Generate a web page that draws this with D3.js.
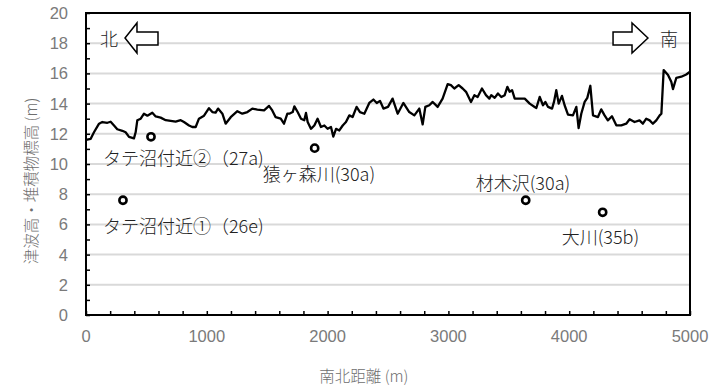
<!DOCTYPE html>
<html>
<head>
<meta charset="utf-8">
<script src="https://cdn.jsdelivr.net/npm/d3@7"></script>
<style>
  body { margin: 0; background: #fff; }
  svg { display: block; }
  .tick-label { font-family: "Liberation Sans", Arial, sans-serif; font-size: 16.5px; fill: #7a7a7a; }
  .axis-title { font-family: "Noto Sans CJK JP", sans-serif; font-size: 15.5px; font-weight: 300; fill: #6e6e6e; }
  .site-label { font-family: "Noto Sans CJK JP", sans-serif; font-size: 18px; font-weight: 300; fill: #222; }
</style>
</head>
<body>
<svg id="chart" width="725" height="386"></svg>
<script>
// tsunami height profile (distance m, height m)
const profileX = [0, 39, 66, 108, 135, 177, 204, 232, 259, 301, 328, 356, 397, 411, 425, 453, 480, 508, 549, 577,
  618, 660, 701, 742, 784, 811, 853, 880, 908, 935, 977, 1018, 1046, 1073, 1093, 1129, 1156, 1198, 1253, 1294,
  1336, 1377, 1418, 1474, 1515, 1542, 1570, 1612, 1639, 1667, 1683, 1711, 1725, 1752, 1780, 1807, 1821, 1835, 1862,
  1890, 1917, 1945, 1973, 2000, 2028, 2047, 2070, 2097, 2125, 2152, 2180, 2207, 2240, 2268, 2304, 2345, 2379, 2407,
  2434, 2462, 2500, 2538, 2580, 2627, 2676, 2718, 2759, 2787, 2809, 2842, 2870, 2911, 2952, 2994, 3021, 3049, 3085,
  3118, 3146, 3187, 3215, 3242, 3278, 3311, 3339, 3355, 3383, 3410, 3438, 3466, 3488, 3507, 3527, 3549, 3590, 3632,
  3673, 3714, 3728, 3756, 3783, 3803, 3825, 3858, 3874, 3893, 3913, 3940, 3962, 3990, 4031, 4059, 4078, 4100, 4128,
  4150, 4175, 4197, 4238, 4265, 4293, 4320, 4354, 4390, 4431, 4472, 4500, 4541, 4582, 4610, 4638, 4666, 4693, 4721,
  4749, 4763, 4782, 4818, 4845, 4859, 4887, 4928, 4969, 5000];
const profileY = [11.6, 11.67, 12.1, 12.67, 12.78, 12.73, 12.8, 12.55, 12.3, 12.2, 12.1, 11.8, 11.7, 12.1, 12.9, 13.0, 13.33, 13.2, 13.4, 13.15,
  13.07, 12.9, 12.85, 12.8, 12.9, 12.78, 12.55, 12.45, 12.45, 13.0, 13.2, 13.7, 13.44, 13.4, 13.67, 13.33, 12.67, 13.1, 13.5, 13.33,
  13.44, 13.67, 13.6, 13.55, 13.85, 13.55, 13.1, 13.0, 12.67, 13.33, 13.33, 13.44, 13.82, 13.44, 13.0, 12.9, 13.38, 12.78, 12.33,
  12.55, 13.0, 12.45, 12.55, 12.33, 12.45, 11.82, 12.33, 12.22, 12.55, 12.78, 13.22, 13.11, 13.78, 13.44, 13.33, 14.04, 14.27, 14.04,
  14.18, 13.67, 13.78, 14.33, 13.33, 14.04, 13.44, 13.22, 13.67, 12.62, 13.78, 13.89, 14.11, 13.78, 14.33, 15.29, 15.22, 15.0, 15.22,
  15.0, 14.78, 14.11, 14.56, 14.44, 15.0, 14.56, 14.33, 14.56, 14.38, 14.67, 14.44, 14.56, 15.11, 14.78, 14.89, 14.33, 14.33, 14.33,
  14.0, 13.78, 13.71, 14.44, 13.89, 14.11, 13.78, 13.67, 14.11, 14.89, 14.0, 14.51, 13.89, 13.27, 13.22, 13.78, 12.38, 13.33, 14.11,
  14.38, 15.18, 13.22, 13.11, 13.62, 13.22, 12.89, 13.16, 12.56, 12.56, 12.67, 12.96, 12.78, 12.89, 12.67, 13.0, 12.89, 12.67, 12.89,
  13.22, 13.33, 16.22, 15.89, 15.44, 14.96, 15.71, 15.78, 15.93, 16.11];

// sediment sites
const siteNames = ["タテ沼付近①（26e)", "タテ沼付近②（27a)", "猿ヶ森川(30a)", "材木沢(30a)", "大川(35b)"];
const siteX = [306, 538, 1893, 3640, 4277];
const siteY = [7.6, 11.8, 11.05, 7.6, 6.8];

const yTicks = [0, 2, 4, 6, 8, 10, 12, 14, 16, 18, 20];
const xTicks = [0, 1000, 2000, 3000, 4000, 5000];

const svg = d3.select('#chart');
const margin = { top: 13, right: 35, bottom: 71, left: 86 };
const width = +svg.attr('width'), height = +svg.attr('height');

const x = d3.scaleLinear().domain([0, 5000]).range([margin.left, width - margin.right]);
const y = d3.scaleLinear().domain([0, 20]).range([height - margin.bottom, margin.top]);

svg.append('rect').attr('width', width).attr('height', height).attr('fill', '#fff');

// gridlines
svg.append('g')
  .selectAll('line')
  .data(yTicks.filter(d => d > 0 && d < 20))
  .enter()
  .append('line')
  .attr('x1', x(0)).attr('x2', x(5000))
  .attr('y1', d => y(d)).attr('y2', d => y(d))
  .attr('stroke', '#d9d9d9').attr('stroke-width', 2);

// axes (ticks point inward)
const yAxis = svg.append('g')
  .attr('transform', `translate(${x(0)},0)`)
  .call(d3.axisRight(y).tickValues(d3.range(0, 21, 1)).tickSize(4).tickFormat(''));
const xAxis = svg.append('g')
  .attr('transform', `translate(0,${y(0)})`)
  .call(d3.axisTop(x).tickValues(d3.range(0, 5001, 200)).tickSize(4).tickFormat(''));
[yAxis, xAxis].forEach(g => {
  g.select('.domain').remove();
  g.selectAll('.tick line').attr('stroke', '#000').attr('stroke-width', 1.5);
});

// frame
svg.append('rect')
  .attr('x', x(0)).attr('y', y(20))
  .attr('width', x(5000) - x(0)).attr('height', y(0) - y(20))
  .attr('fill', 'none').attr('stroke', '#000').attr('stroke-width', 2);

// tick labels
svg.append('g').selectAll('text')
  .data(yTicks).enter().append('text')
  .attr('class', 'tick-label')
  .attr('x', x(0) - 18).attr('y', d => y(d))
  .attr('text-anchor', 'end').attr('dominant-baseline', 'central')
  .text(d => d);
svg.append('g').selectAll('text')
  .data(xTicks).enter().append('text')
  .attr('class', 'tick-label')
  .attr('x', d => x(d)).attr('y', y(0) + 21)
  .attr('text-anchor', 'middle').attr('dominant-baseline', 'central')
  .text(d => d);

// axis titles
svg.append('text')
  .attr('class', 'axis-title')
  .attr('transform', `translate(30,${y(10) + 17}) rotate(-90)`)
  .attr('text-anchor', 'middle').attr('dominant-baseline', 'central')
  .text('津波高・堆積物標高 (m)');
svg.append('text')
  .attr('class', 'axis-title')
  .attr('x', x(2300)).attr('y', 375)
  .attr('text-anchor', 'middle').attr('dominant-baseline', 'central')
  .text('南北距離 (m)');

// profile line
const profile = profileX.map((d, i) => [d, profileY[i]]);
svg.append('path')
  .datum(profile)
  .attr('fill', 'none').attr('stroke', '#000').attr('stroke-width', 2.3)
  .attr('stroke-linejoin', 'round')
  .attr('d', d3.line().x(d => x(d[0])).y(d => y(d[1])));

// sites
const labelOffset = [[-20, 25], [-48, 20], [-52, 25], [-50, -18], [-41, 24]];
const sites = siteNames.map((n, i) => ({ name: n, x: siteX[i], y: siteY[i], off: labelOffset[i] }));
svg.append('g').selectAll('circle')
  .data(sites).enter().append('circle')
  .attr('cx', d => x(d.x)).attr('cy', d => y(d.y)).attr('r', 3.6)
  .attr('fill', '#fff').attr('stroke', '#000').attr('stroke-width', 2.6);
svg.append('g').selectAll('text')
  .data(sites).enter().append('text')
  .attr('class', 'site-label')
  .attr('x', d => x(d.x) + d.off[0]).attr('y', d => y(d.y) + d.off[1])
  .attr('dominant-baseline', 'central')
  .text(d => d.name);

// direction arrows
const arrowLeft = [[323, 18.34], [422, 19.34], [422, 18.74], [596, 18.74], [596, 17.88], [422, 17.88], [422, 17.35]];
const arrowRight = [[4652, 18.34], [4520, 19.34], [4520, 18.74], [4363, 18.74], [4363, 17.88], [4520, 17.88], [4520, 17.35]];
[arrowLeft, arrowRight].forEach(a => {
  svg.append('path')
    .attr('d', d3.line().x(d => x(d[0])).y(d => y(d[1]))(a) + 'Z')
    .attr('fill', '#fff').attr('stroke', '#000').attr('stroke-width', 1.5);
});
svg.append('text').attr('class', 'site-label')
  .attr('x', x(190)).attr('y', y(18.34))
  .attr('text-anchor', 'middle').attr('dominant-baseline', 'central').text('北');
svg.append('text').attr('class', 'site-label')
  .attr('x', x(4826)).attr('y', y(18.34))
  .attr('text-anchor', 'middle').attr('dominant-baseline', 'central').text('南');
</script>
</body>
</html>
